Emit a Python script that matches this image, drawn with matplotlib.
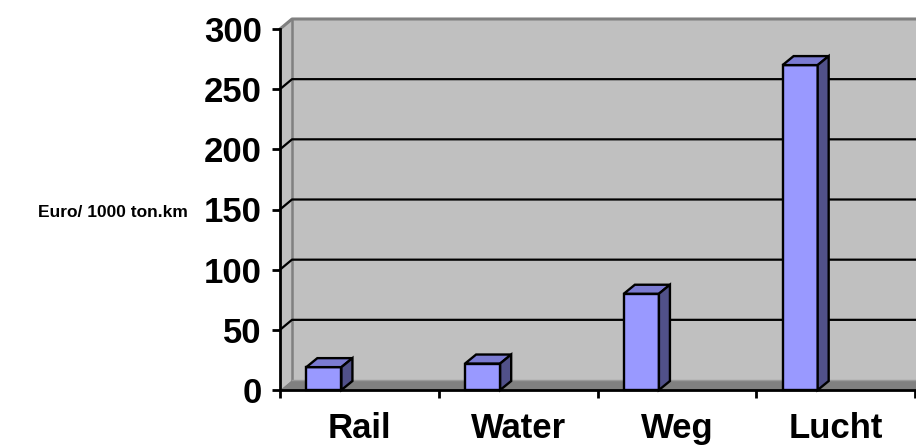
import numpy as np
import matplotlib
matplotlib.use('Agg')
import matplotlib.pyplot as plt
from matplotlib.patches import Polygon

plt.rcParams['font.family'] = ['Liberation Sans', 'DejaVu Sans']
plt.rcParams['font.weight'] = 'bold'

categories = ['Rail', 'Water', 'Weg', 'Lucht']
values     = [19, 22, 80, 270]
yticks     = [0, 50, 100, 150, 200, 250, 300]

wall_col  = '#c0c0c0'
floor_col = '#808080'
front_col = '#9999ff'
top_col   = '#7b7bd2'
side_col  = '#515189'

fig = plt.figure(figsize=(9.16, 4.46), dpi=100)
ax = fig.add_axes([280/916, 56/446, 635/916, 361/446])
ax.set_xlim(-0.5, 3.5)
ax.set_ylim(0, 300)
ax.patch.set_visible(False)

# depth offsets (data units) for walls and bars
wdx, wdy = 12/158.75, 10/1.2033
bdx, bdy = 11/158.75, 9/1.2033
x0 = -0.5
xr = 3.8

def poly(pts, fc, ec='none', lw=0, z=1):
    ax.add_patch(Polygon(pts, closed=True, facecolor=fc, edgecolor=ec,
                         lw=lw, zorder=z, clip_on=False))

# back wall, side wall, floor
poly([(x0+wdx, wdy), (xr, wdy), (xr, 300+wdy), (x0+wdx, 300+wdy)], wall_col, z=0.5)
poly([(x0, 0), (x0+wdx, wdy), (x0+wdx, 300+wdy), (x0, 300)], wall_col, z=0.5)
poly([(x0, 0), (xr, 0), (xr, wdy), (x0+wdx, wdy)], floor_col, z=0.6)
ax.plot([x0, x0+wdx, xr], [300, 300+wdy, 300+wdy], color='#808080', lw=2.2, zorder=0.7, clip_on=False)
ax.plot([x0+wdx, x0+wdx], [wdy, 300+wdy], color='#808080', lw=1.8, zorder=0.7, clip_on=False)
ax.plot([x0+wdx, xr], [wdy, wdy], color='#9a9a9a', lw=1, zorder=0.7, clip_on=False)

# gridlines
for v in yticks[1:-1]:
    ax.plot([x0, x0+wdx, xr], [v, v+wdy, v+wdy], color='black', lw=1.6, zorder=0.8, clip_on=False)

# bars
for i, v in enumerate(values):
    l, r = i - 0.334, i - 0.113
    poly([(l, 0), (r, 0), (r, v), (l, v)], front_col, 'black', 1.7, 3)
    poly([(l, v), (r, v), (r+bdx, v+bdy), (l+bdx, v+bdy)], top_col, 'black', 1.7, 3)
    poly([(r, 0), (r+bdx, bdy), (r+bdx, v+bdy), (r, v)], side_col, 'black', 1.7, 3)

for s in ['top', 'right']:
    ax.spines[s].set_visible(False)
ax.spines['left'].set_linewidth(2)
ax.spines['bottom'].set_linewidth(2)
ax.spines['bottom'].set_bounds(-0.5, 3.8)
ax.spines['left'].set_zorder(2)
ax.spines['bottom'].set_zorder(2)

ax.set_yticks(yticks)
ax.set_yticklabels([str(t) for t in yticks], fontsize=25, fontweight='bold')
ax.tick_params(axis='y', direction='out', length=6, width=2, pad=7)

ax.set_xticks([-0.5, 0.5, 1.5, 2.5, 3.5])
ax.set_xticklabels([])
ax.set_xticks(range(len(categories)), minor=True)
ax.set_xticklabels(categories, minor=True, fontsize=25, fontweight='bold')
ax.tick_params(axis='x', which='major', direction='out', length=6, width=2)
ax.tick_params(axis='x', which='minor', length=0, pad=16)

fig.text(113/916, 1 - 213/446, 'Euro/ 1000 ton.km', fontsize=12.5, fontweight='bold',
         ha='center', va='center')

fig.savefig('out.png', dpi=100)
